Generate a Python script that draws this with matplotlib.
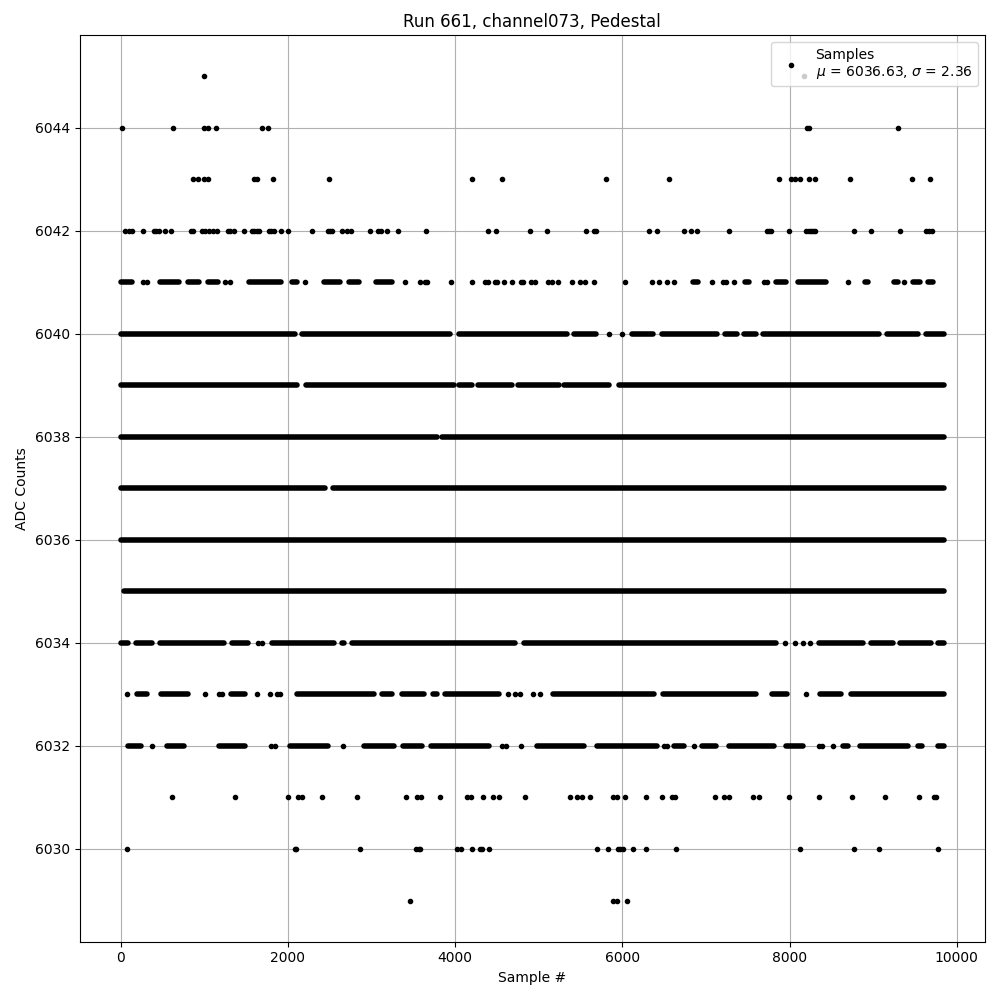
import matplotlib
matplotlib.use("Agg")
import matplotlib.pyplot as plt
import numpy as np

# Sample indices, per ADC level.
# dots_* are single samples, runs_* are stretches where samples sit
# back to back and the markers merge into a solid bar.
dots_6045 = [992, 8170]
dots_6044 = [10, 621, 992, 1040, 1136, 1691, 1759, 8209, 8228, 9294]
dots_6043 = [865, 920, 992, 1040, 1591, 1632, 1819, 2490, 4203, 4562, 5808,
             6563, 7877, 8012, 8060, 8120, 8228, 8300, 8719, 9462, 9677]
dots_6042 = [54, 102, 141, 261, 393, 421, 453, 529, 597, 841, 860, 968, 1012,
             1060, 1100, 1148, 1280, 1312, 1352, 1471, 1567, 1599, 1631, 1659,
             1771, 1799, 1839, 1919, 1999, 2286, 2474, 2498, 2526, 2646, 2706,
             2758, 2985, 3077, 3109, 3185, 3317, 3652, 4395, 4490, 4898, 5101,
             5569, 5661, 5681, 6323, 6419, 6739, 6819, 6898, 7270, 7729, 7749,
             7777, 7997, 8200, 8228, 8256, 8280, 8308, 8775, 8971, 9318, 9626,
             9666, 9698]
dots_6041 = [270, 320, 1250, 1310, 2206, 3396, 3576, 3636, 3664, 3947, 4203,
             4355, 4395, 4475, 4495, 4586, 4686, 4786, 4806, 4906, 4954, 5106,
             5154, 5233, 5393, 5493, 5553, 5664, 6036, 6359, 6443, 6539, 6623,
             7078, 7205, 7240, 7330, 7690, 7725, 8695, 9374]
runs_6041 = [(0, 141), (474, 695), (806, 935), (1045, 1167), (1533, 1914),
             (2043, 2114), (2435, 2624), (2731, 2852), (3058, 3244), (6844, 6910),
             (7463, 7517), (7834, 7956), (8102, 8435), (8901, 8934), (9248, 9294),
             (9479, 9554), (9659, 9713)]
dots_6040 = [5840, 6000]
runs_6040 = [(0, 2085), (2171, 3942), (4048, 5340), (5426, 5679), (6116, 6367),
             (6476, 7134), (7224, 7368), (7454, 7596), (7682, 9074), (9168, 9541),
             (9631, 9841)]
runs_6039 = [(0, 2113), (2211, 3982), (4048, 4202), (4268, 4681), (4747, 5240),
             (5306, 5839), (5965, 9841)]
runs_6038 = [(0, 3782), (3848, 9841)]
runs_6037 = [(0, 2445), (2539, 9841)]
runs_6036 = [(0, 9845)]
runs_6035 = [(35, 9841)]
dots_6034 = [1640, 1685, 7949, 8060, 8156, 8240]
runs_6034 = [(0, 89), (186, 377), (466, 1239), (1333, 1527), (1812, 2552),
             (2642, 2676), (2770, 4721), (4819, 7835), (8353, 8874), (8968, 9233),
             (9319, 9692), (9779, 9845)]
dots_6033 = [74, 1009, 1180, 1210, 1627, 1791, 1875, 1910, 4634, 4714, 4774,
             4926, 5014, 8192]
runs_6033 = [(195, 317), (486, 808), (1325, 1486), (2112, 3024), (3122, 3244),
             (3369, 3623), (3737, 3783), (3881, 4522), (5166, 6378), (6492, 7596),
             (7794, 7967), (8361, 8614), (8732, 9845)]
dots_6032 = [369, 1800, 1845, 2657, 4560, 4605, 4786, 6498, 6528, 6859, 8350,
             8385, 8516]
runs_6032 = [(87, 248), (554, 755), (1181, 1486), (2020, 2485), (2910, 3264),
             (3378, 3603), (3709, 4402), (4975, 5540), (5694, 6410), (6616, 6738),
             (6956, 7117), (7275, 7816), (7962, 8155), (8641, 8694), (8840, 9413),
             (9539, 9581), (9779, 9841)]
dots_6031 = [609, 1372, 2007, 2126, 2166, 2406, 2825, 3408, 3544, 3596, 3816,
             4147, 4187, 4335, 4455, 4526, 4838, 5377, 5461, 5513, 5613, 5892,
             5932, 6032, 6284, 6479, 6591, 6631, 7110, 7218, 7270, 7557, 7629,
             7989, 8348, 8743, 9138, 9542, 9725, 9754]
dots_6030 = [74, 2079, 2099, 2866, 3536, 3568, 3584, 4028, 4067, 4203, 4295,
             4323, 4407, 5693, 5832, 5944, 5972, 6012, 6124, 6284, 6643, 8120,
             8775, 9067, 9773]
dots_6029 = [3465, 5885, 5932, 6060]

run_number = 661
channel = "channel073"
mean_adc = 6036.63
sigma_adc = 2.36

dots = {6045: dots_6045, 6044: dots_6044, 6043: dots_6043, 6042: dots_6042,
        6041: dots_6041, 6040: dots_6040, 6034: dots_6034, 6033: dots_6033,
        6032: dots_6032, 6031: dots_6031, 6030: dots_6030, 6029: dots_6029}
runs = {6041: runs_6041, 6040: runs_6040, 6039: runs_6039, 6038: runs_6038,
        6037: runs_6037, 6036: runs_6036, 6035: runs_6035, 6034: runs_6034,
        6033: runs_6033, 6032: runs_6032}

fig, ax = plt.subplots(figsize=(10, 10), dpi=100)

xs = np.concatenate([np.asarray(v, dtype=float) for v in dots.values()])
ys = np.concatenate([np.full(len(v), lvl, dtype=float) for lvl, v in dots.items()])
label = f"Samples\n$\\mu$ = {mean_adc:.2f}, $\\sigma$ = {sigma_adc:.2f}"
ax.plot(xs, ys, "k.", label=label)

# merged markers: a round-capped bar as wide as one '.' marker
for lvl, segs in runs.items():
    starts = [s for s, _ in segs]
    ends = [e for _, e in segs]
    ax.hlines([lvl] * len(segs), starts, ends, colors="k", linewidth=4.0,
              capstyle="round")

ax.set_title(f"Run {run_number}, {channel}, Pedestal")
ax.set_xlabel("Sample #")
ax.set_ylabel("ADC Counts")
ax.legend(loc="upper right")
ax.grid(True)

plt.tight_layout()
fig.subplots_adjust(top=0.965)
plt.savefig("out.png")
plt.close()
